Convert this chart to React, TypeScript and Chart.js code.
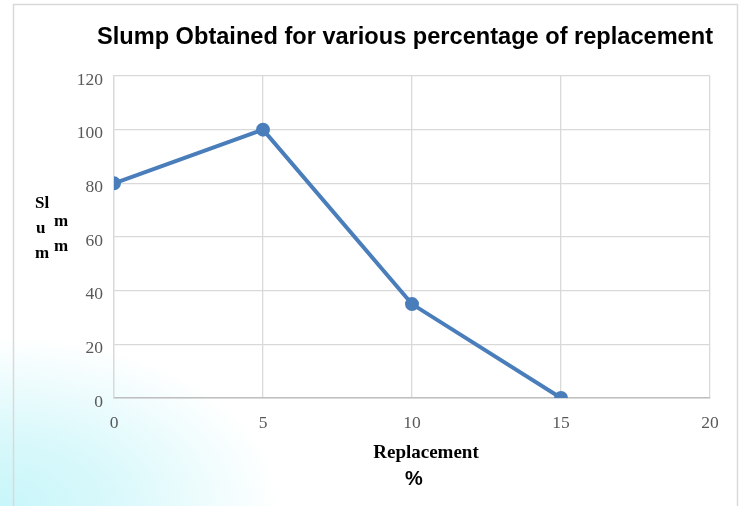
import React, { useEffect, useRef } from "react";
import { Chart, registerables } from "chart.js";

Chart.register(...registerables);

const replacementPct = [0, 5, 10, 15];
const slumpMm = [80, 100, 35, 0];
const chartTitle = "Slump Obtained for various percentage of replacement";
const xTitleMain = "Replacement";
const xTitleUnit = "%";
const yTitlePieces = [
  { t: "Sl", x: 35, y: 208 },
  { t: "u", x: 36, y: 233 },
  { t: "m", x: 35, y: 258 },
  { t: "m", x: 54, y: 226 },
  { t: "m", x: 54, y: 251 },
];

const decorPlugin = {
  id: "decor",
  beforeDraw(chart: any) {
    const ctx = chart.ctx;
    ctx.save();
    ctx.strokeStyle = "#d9d9d9";
    ctx.lineWidth = 1.5;
    ctx.strokeRect(13.5, 4.5, 724, 520);
    ctx.restore();
  },
  afterDraw(chart: any) {
    const ctx = chart.ctx;
    ctx.save();
    ctx.fillStyle = "#000000";
    ctx.textBaseline = "alphabetic";
    ctx.textAlign = "center";
    ctx.font = "bold 23.6px 'Liberation Sans', Arial, sans-serif";
    ctx.fillText(chartTitle, 405, 44, 616);
    ctx.textAlign = "left";
    ctx.font = "bold 17px 'Liberation Serif', serif";
    for (const p of yTitlePieces) ctx.fillText(p.t, p.x, p.y);
    ctx.textAlign = "center";
    ctx.font = "bold 19px 'Liberation Serif', serif";
    ctx.fillText(xTitleMain, 426, 458);
    ctx.font = "bold 20px 'Liberation Sans', Arial, sans-serif";
    ctx.fillText(xTitleUnit, 414, 485);
    ctx.restore();
  },
};

export default function App() {
  const ref = useRef<HTMLCanvasElement | null>(null);
  useEffect(() => {
    if (!ref.current) return;
    const chart = new Chart(ref.current, {
      type: "line",
      data: {
        datasets: [
          {
            label: "Slump",
            data: replacementPct.map((x, i) => ({ x, y: slumpMm[i] })),
            borderColor: "#4a7ebb",
            backgroundColor: "#4a7ebb",
            borderWidth: 4,
            pointRadius: 5,
            pointHoverRadius: 5,
            pointBackgroundColor: "#4a7ebb",
            pointBorderColor: "#4a7ebb",
            tension: 0,
          },
        ],
      },
      options: {
        animation: false,
        responsive: false,
        maintainAspectRatio: false,
        layout: { padding: { top: 76, right: 32, bottom: 0, left: 0 } },
        plugins: {
          legend: { display: false },
          tooltip: { enabled: false },
          title: { display: false },
        },
        scales: {
          x: {
            type: "linear",
            min: 0,
            max: 20,
            ticks: {
              stepSize: 5,
              color: "#595959",
              padding: 15,
              font: { family: "'Liberation Serif', serif", size: 17.5 },
            },
            grid: { color: "#d9d9d9", drawTicks: false, lineWidth: 1.3 },
            border: { color: "#bfbfbf", width: 1.5 },
            afterFit(scale: any) {
              scale.height = 108;
            },
          },
          y: {
            min: 0,
            max: 120,
            ticks: {
              stepSize: 20,
              color: "#595959",
              padding: 11,
              labelOffset: 4,
              font: { family: "'Liberation Serif', serif", size: 17.5 },
            },
            grid: { color: "#d9d9d9", drawTicks: false, lineWidth: 1.3 },
            border: { color: "#d9d9d9", width: 1.3 },
            afterFit(scale: any) {
              scale.width = 114;
            },
          },
        },
      },
      plugins: [decorPlugin],
    });
    return () => chart.destroy();
  }, []);

  return (
    <div
      style={{
        position: "fixed",
        left: 0,
        top: 0,
        width: 742,
        height: 506,
        background:
          "radial-gradient(ellipse 280px 170px at 0px 506px, rgba(200,246,250,1) 0%, rgba(210,247,250,0.85) 40%, rgba(255,255,255,0) 100%), #ffffff",
      }}
    >
      <canvas ref={ref} width={742} height={506} style={{ display: "block" }} />
    </div>
  );
}
